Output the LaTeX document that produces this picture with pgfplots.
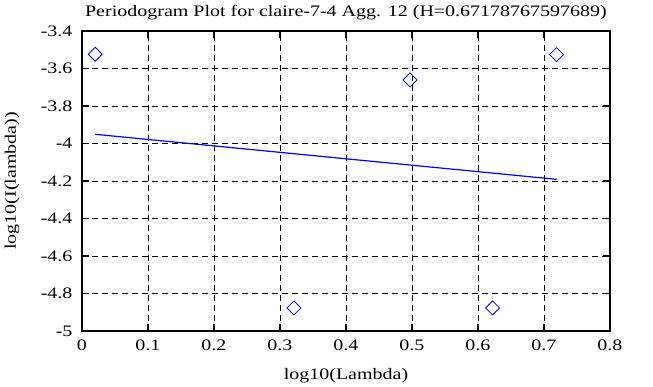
\documentclass[border=0pt]{standalone}
\usepackage{fontspec}
\setmainfont{Liberation Serif}[FakeStretch=1.25]
\usepackage{pgfplots}
\pgfplotsset{compat=1.18}
\begin{document}
\fontsize{16bp}{19bp}\selectfont
\begin{tikzpicture}
\path[use as bounding box] (-82bp,-56bp) rectangle (571bp,331bp);
\begin{axis}[
  at={(0,0)}, anchor=south west,
  scale only axis, width=528bp, height=300bp,
  xmin=0, xmax=0.8, ymin=-5, ymax=-3.4,
  xtick={0,0.1,0.2,0.3,0.4,0.5,0.6,0.7,0.8},
  ytick={-5,-4.8,-4.6,-4.4,-4.2,-4,-3.8,-3.6,-3.4},
  /pgf/number format/assume math mode=true,
  tick label style={font=\fontsize{16bp}{19bp}\selectfont, black},
  label style={font=\fontsize{16bp}{19bp}\selectfont},
  title style={font=\fontsize{16bp}{19bp}\selectfont, at={(rel axis cs:0.5,1)}, anchor=center, yshift=12bp},
  title={Periodogram Plot for claire-7-4 Agg. 12 (H=0.67178767597689)},
  xlabel={log10(Lambda)},
  ylabel={log10(I(lambda))},
  xlabel style={at={(rel axis cs:0.5,0)}, anchor=center, yshift=-45bp},
  ylabel style={at={(rel axis cs:0,0.5)}, anchor=center, yshift=70bp},
  xticklabel style={yshift=-3bp},
  yticklabel style={xshift=-4bp},
  axis line style={line width=1.4bp, black},
  major tick length=7bp,
  tick style={line width=1.2bp, black},
  grid=major,
  major grid style={black, line width=0.8bp, dash pattern=on 6bp off 4bp},
  clip=false,
]
\addplot[blue, line width=1.2bp] coordinates {(0.02003,-3.9510) (0.71900,-4.1911)};
\addplot[only marks, blue, mark=square, mark size=4.95bp, mark options={rotate=45, line width=0.8bp, fill=none}] coordinates {
 (0.02003,-3.524) (0.32106,-4.877) (0.49715,-3.661) (0.62209,-4.877) (0.71900,-3.526)};
\end{axis}
\end{tikzpicture}
\end{document}
